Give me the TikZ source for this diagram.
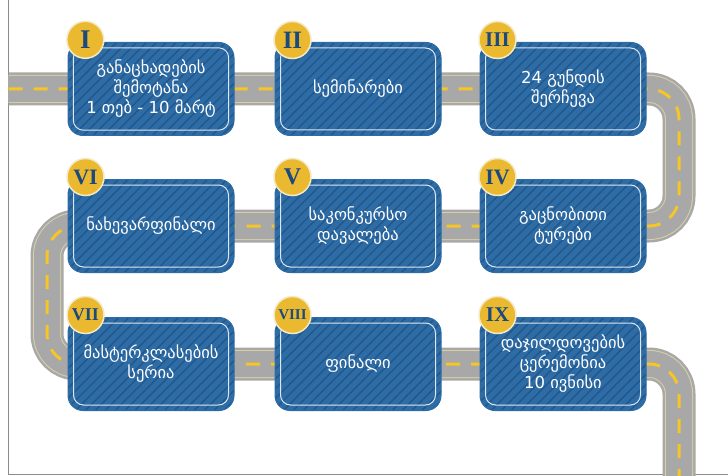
\documentclass[tikz,border=0pt]{standalone}
\usepackage{fontspec}
\newfontfamily\geofont{DejaVu Sans}
\newfontfamily\numfont{Liberation Serif}
\usetikzlibrary{patterns.meta}

\definecolor{stageblue}{HTML}{2E6CA6}
\definecolor{stripeblue}{HTML}{22578C}
\definecolor{stageline}{HTML}{DCE7F2}
\definecolor{badgeyellow}{HTML}{EBB92F}
\definecolor{badgering}{HTML}{F4E9C6}
\definecolor{numblue}{HTML}{1C4A7C}
\definecolor{roadgray}{HTML}{A8A8A8}
\definecolor{roadedge}{HTML}{D8CFA6}
\definecolor{lanemark}{HTML}{F6C626}
\definecolor{framegray}{HTML}{8C8C8C}

\tikzset{
  stage/.style={rounded corners=15pt, draw=stageblue, line width=1pt,
    preaction={fill=stageblue},
    pattern={Lines[angle=45, distance=7pt, line width=1.4pt]}, pattern color=stripeblue,
    minimum width=166pt, minimum height=93pt, inner sep=0pt,
    align=center, text=white, font=\geofont\fontsize{16.5}{20}\selectfont},
  stageinner/.style={draw=stageline, line width=1pt, rounded corners=10pt},
  badge/.style={circle, fill=badgeyellow, draw=badgering, line width=1.5pt,
    minimum size=37pt, inner sep=0pt, text=numblue},
  road/.style={line width=#1, line cap=butt, rounded corners=30pt},
}

\begin{document}
\begin{tikzpicture}[x=1pt, y=-1pt]
  \useasboundingbox (0,0) rectangle (728,476);
  % frame
  \draw[framegray, line width=1.4pt] (8.5,0) -- (8.5,474.5) -- (728,474.5);

  % road
  \coordinate (rs) at (8.5,89);
  \coordinate (t1) at (679,89);
  \coordinate (t2) at (679,226);
  \coordinate (t3) at (47,226);
  \coordinate (t4) at (47,364);
  \coordinate (t5) at (679,364);
  \coordinate (re) at (679,490);
  \foreach \w/\c in {33/roadgray, 28/roadedge, 26/roadgray} {
    \draw[road=\w pt, \c] (rs) -- (t1) -- (t2) -- (t3) -- (t4) -- (t5) -- (re);
  }
  \draw[road=3pt, lanemark, dash pattern=on 14pt off 11pt]
    (rs) -- (t1) -- (t2) -- (t3) -- (t4) -- (t5) -- (re);

  % stages
  \foreach \i/\x/\y/\num/\nsz/\txt in {
      1/151/89/I/27/{განაცხადების\\შემოტანა\\1 თებ - 10 მარტ},
      2/358/89/II/25/{სემინარები},
      3/563/89/III/21/{24 გუნდის\\შერჩევა},
      4/563/226/IV/22/{გაცნობითი\\ტურები},
      5/358/226/V/24/{საკონკურსო\\დავალება},
      6/151/226/VI/22/{ნახევარფინალი},
      7/151/364/VII/18/{მასტერკლასების\\სერია},
      8/358/364/VIII/15/{ფინალი},
      9/563/364/IX/21/{დაჯილდოვების\\ცერემონია\\10 ივნისი}} {
    \node[stage] (b\i) at (\x,\y) {\txt};
    \draw[stageinner] ([shift={(6pt,-6pt)}]b\i.north west) rectangle ([shift={(-6pt,6pt)}]b\i.south east);
    \node[badge, font=\numfont\bfseries\fontsize{\nsz}{\nsz}\selectfont] (n\i) at ([shift={(18pt,2pt)}]b\i.north west) {\num};
  }
\end{tikzpicture}
\end{document}
